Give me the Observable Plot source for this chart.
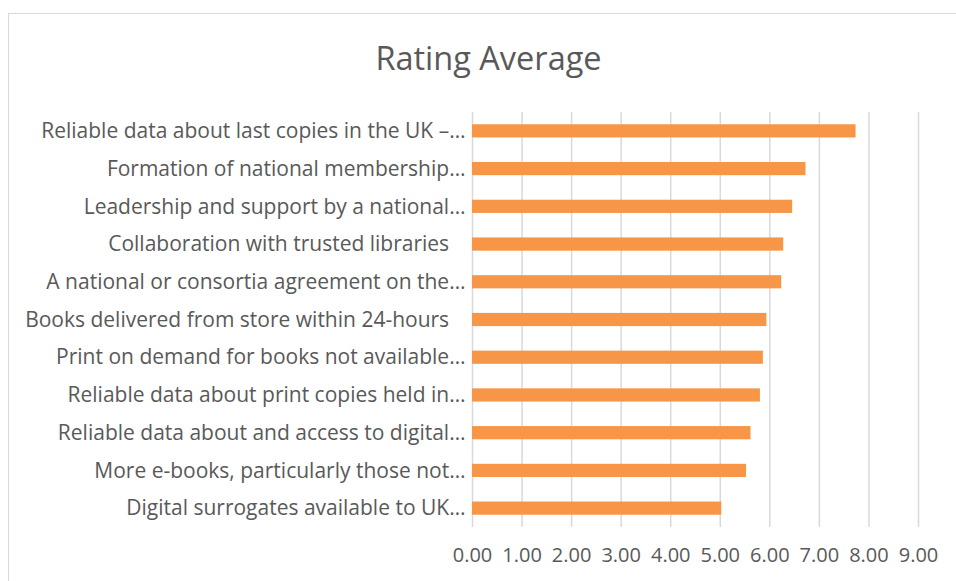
<!DOCTYPE html>
<html>
<head>
<meta charset="utf-8">
<script src="https://cdn.jsdelivr.net/npm/d3@7"></script>
<script src="https://cdn.jsdelivr.net/npm/@observablehq/plot@0.6"></script>
<style>
  html, body { margin: 0; padding: 0; background: #fff; }
  #wrap { position: relative; width: 956px; height: 581px; overflow: hidden; font-family: "Open Sans", sans-serif; }
  #frame { position: absolute; left: 8px; top: 13px; width: 1000px; height: 700px; border: 1.5px solid #d9d9d9; box-sizing: border-box; }
  #title { position: absolute; left: 0; top: 0; width: 977px; height: 100px; line-height: 115px; text-align: center; font-size: 32.5px; color: #595959; }
  #chart { position: absolute; left: 0; top: 100px; }
</style>
</head>
<body>
<div id="wrap">
  <div id="frame"></div>
  <div id="title">Rating Average</div>
  <div id="chart"></div>
</div>
<script>
const categories = [
  "Reliable data about last copies in the UK –…",
  "Formation of national membership…",
  "Leadership and support by a national…",
  "Collaboration with trusted libraries ",
  "A national or consortia agreement on the…",
  "Books delivered from store within 24-hours ",
  "Print on demand for books not available…",
  "Reliable data about print copies held in…",
  "Reliable data about and access to digital…",
  "More e-books, particularly those not…",
  "Digital surrogates available to UK…"
];
const ratings = [7.74, 6.73, 6.46, 6.28, 6.24, 5.94, 5.87, 5.81, 5.62, 5.53, 5.03];
const xTicks = [0, 1, 2, 3, 4, 5, 6, 7, 8, 9];

const data = categories.map((c, i) => ({category: c, rating: ratings[i]}));
// keep the trailing blank of the original labels visible
const yLabel = d => d.endsWith(" ") ? d.trimEnd() + "\u00a0\u00a0\u00a0" : d;

const chart = Plot.plot({
  width: 956,
  height: 481,
  marginTop: 12,
  marginBottom: 54,
  marginLeft: 472,
  marginRight: 38,
  style: {fontFamily: "Open Sans, sans-serif", fontSize: "20px", color: "#595959", background: "transparent"},
  x: {domain: [0, 9], ticks: xTicks, tickFormat: d => d.toFixed(2), label: null, tickSize: 0},
  y: {domain: categories, paddingInner: 0.65, paddingOuter: 0.325, round: false, label: null, tickSize: 0},
  marks: [
    Plot.gridX(xTicks, {stroke: "#d9d9d9", strokeOpacity: 1, strokeWidth: 1.5}),
    Plot.barX(data, {x: "rating", y: "category", fill: "#F79646"}),
    Plot.axisX({ticks: xTicks, tickFormat: d => d.toFixed(2), tickSize: 0, tickPadding: 20, fill: "#595959", fontSize: 20, label: null}),
    Plot.axisY({tickSize: 0, tickPadding: 7, tickFormat: yLabel, fill: "#595959", fontSize: 21, label: null})
  ]
});
document.getElementById("chart").appendChild(chart);
</script>
</body>
</html>
